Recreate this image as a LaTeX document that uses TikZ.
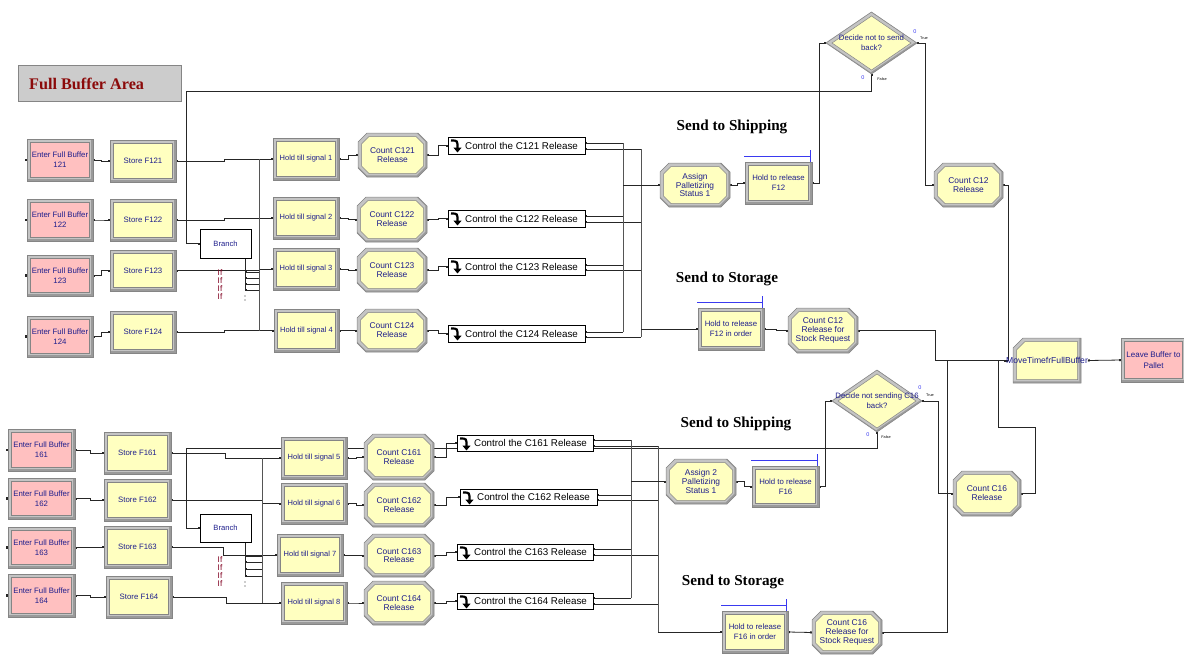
\documentclass[tikz,border=0pt]{standalone}
\usepackage{fontspec}
\setmainfont{Liberation Serif}
\setsansfont{Liberation Sans}
\usetikzlibrary{calc,arrows.meta,backgrounds}

\definecolor{modyellow}{HTML}{FFFFC0}
\definecolor{modpink}{HTML}{FFC0C0}
\definecolor{bevlight}{HTML}{C4C4C4}
\definecolor{bevdark}{HTML}{9A9A9A}
\definecolor{bevedge}{HTML}{858585}
\definecolor{modtextc}{HTML}{1E1E8C}
\definecolor{titlered}{HTML}{8B0A0A}
\definecolor{titlegray}{HTML}{CCCCCC}
\definecolor{ifred}{HTML}{800020}
\definecolor{holdblue}{HTML}{3A3AF0}
\definecolor{linec}{HTML}{262626}
\definecolor{busc}{HTML}{555555}

\newcommand\mfont[2]{\sffamily\fontsize{#1}{#2}\selectfont}
% outline paths (pixel-style coordinates, y grows downwards)
\newcommand\arRect[4]{({#1},{#2}) rectangle ({#3},{#4})}
\newcommand\arOct[5]{({(#1)+(#5)},{#2}) -- ({(#3)-(#5)},{#2}) -- ({#3},{(#2)+(#5)}) -- ({#3},{(#4)-(#5)}) -- ({(#3)-(#5)},{#4}) -- ({(#1)+(#5)},{#4}) -- ({#1},{(#4)-(#5)}) -- ({#1},{(#2)+(#5)}) -- cycle}
\newcommand\arCut[5]{({(#1)+(#5)},{#2}) -- ({#3},{#2}) -- ({#3},{#4}) -- ({#1},{#4}) -- ({#1},{(#2)+(#5)}) -- cycle}
\newcommand\arDia[4]{({(#1)-(#3)},{#2}) -- ({#1},{(#2)-(#4)}) -- ({(#1)+(#3)},{#2}) -- ({#1},{(#2)+(#4)}) -- cycle}

% rectangular module with bevelled frame: [font] name x1 y1 x2 y2 fill text
\newcommand\rectmod[8][\mfont{7.8}{10}]{%
  \fill[bevdark] \arRect{#3}{#4}{#5}{#6};
  \fill[bevlight] \arRect{#3}{#4}{#5-1.6}{#6-1.6};
  \draw[frameedge] \arRect{#3}{#4}{#5}{#6};
  \draw[frameedge, fill=#7] \arRect{#3+3.5}{#4+3.5}{#5-3.5}{#6-3.5};
  \node[modlabel, font=#1, minimum width={#5-#3}, minimum height={#6-#4}] (#2) at ({(#3+#5)/2},{(#4+#6)/2}) {#8};%
}
% octagonal module (count / assign)
\newcommand\octmod[8][\mfont{8.4}{8.8}]{%
  \fill[bevdark] \arOct{#3}{#4}{#5}{#6}{9};
  \fill[bevlight] \arOct{#3}{#4}{#5-1.6}{#6-1.6}{9};
  \draw[frameedge] \arOct{#3}{#4}{#5}{#6}{9};
  \draw[frameedge, fill=#7] \arOct{#3+3.5}{#4+3.5}{#5-3.5}{#6-3.5}{7.5};
  \node[modlabel, font=#1, minimum width={#5-#3}, minimum height={#6-#4}] (#2) at ({(#3+#5)/2},{(#4+#6)/2}) {#8};%
}
% module with one cut corner (route)
\newcommand\cutmod[7]{%
  \fill[bevdark] \arCut{#2}{#3}{#4}{#5}{10};
  \fill[bevlight] \arCut{#2}{#3}{#4-1.6}{#5-1.6}{10};
  \draw[frameedge] \arCut{#2}{#3}{#4}{#5}{10};
  \draw[frameedge, fill=#6] \arCut{#2+3.5}{#3+3.5}{#4-3.5}{#5-3.5}{8.5};
  \node[modlabel, font=\mfont{8.6}{10}, minimum width={#4-#2}, minimum height={#5-#3}] (#1) at ({(#2+#4)/2},{(#3+#5)/2}) {#7};%
}
% decision diamond: name cx cy half-width half-height text
\newcommand\decmod[6]{%
  \fill[bevdark] \arDia{#2}{#3}{#4}{#5};
  \fill[bevlight] \arDia{#2-0.8}{#3-0.8}{#4-1}{#5-1};
  \draw[frameedge] \arDia{#2}{#3}{#4}{#5};
  \draw[frameedge, fill=modyellow] \arDia{#2}{#3}{#4-6}{#5-4};
  \node[modlabel, font=\mfont{7.8}{9.6}, minimum width={2*(#4)}, minimum height={2*(#5)}] (#1) at ({#2},{#3}) {#6};%
}
% signal control box with its icon
\newcommand\ctlmod[6]{%
  \node[ctlbox, minimum width={#4-#2}, minimum height={#5-#3}] (#1) at ({(#2+#4)/2},{(#3+#5)/2}) {};
  \draw[line width=2.2pt, -{Triangle[length=5pt,width=8pt]}] ($(#1.north west)+(3,3.5)$) .. controls ($(#1.north west)+(9.5,3.5)$) .. ($(#1.north west)+(9.5,15.5)$);
  \node[ctltext, anchor=west] (#1t) at ($(#1.west)+(17,0)$) {#6};%
}

\begin{document}
\begin{tikzpicture}[x=1pt, y=-1pt,
  frameedge/.style={draw=bevedge, line width=0.5pt},
  modlabel/.style={inner sep=0pt, outer sep=0pt, align=center, text=modtextc},
  ctlbox/.style={draw=black, fill=white, line width=0.6pt, inner sep=0pt, outer sep=0pt},
  ctltext/.style={inner sep=0pt, font=\mfont{9.8}{11}, text=black},
  branchbox/.style={draw=black, fill=white, line width=0.6pt, inner sep=0pt, outer sep=0pt, font=\mfont{7.6}{9}, text=modtextc},
  sectionlab/.style={inner sep=0pt, font=\rmfamily\bfseries\fontsize{15.2}{17}\selectfont},
  iflab/.style={inner sep=0pt, font=\mfont{8.2}{9}, text=ifred},
  zerolab/.style={inner sep=0pt, font=\mfont{5.5}{6}, text=holdblue},
  tflab/.style={inner sep=0pt, font=\mfont{3.8}{4}, text=black},
  conn/.style={draw=linec, line width=0.8pt, {Square[length=2pt,width=2pt]}-{Square[length=2pt,width=2pt]}},
  inport/.style={draw=linec, line width=0.8pt, -{Square[length=2pt,width=2pt]}},
  outport/.style={draw=linec, line width=0.8pt, {Square[length=2pt,width=2pt]}-},
  plain/.style={draw=linec, line width=0.8pt},
  bus/.style={draw=busc, line width=0.8pt}]

\useasboundingbox (0,0) rectangle (1184,654);

% ---------- title ----------
\node[draw=bevedge, fill=titlegray, line width=0.9pt, minimum width=163, minimum height=36, inner sep=0pt, outer sep=0pt] (title) at (99.5,83) {};
\node[anchor=west, text=titlered, inner sep=0pt, font=\rmfamily\bfseries\fontsize{16.2}{18}\selectfont] (titletext) at (29,84) {Full Buffer Area};

% ---------- upper line: C12 ----------
\rectmod{e121}{27}{139}{93}{181}{modpink}{Enter Full Buffer\\121}
\rectmod{e122}{27}{199}{93}{241}{modpink}{Enter Full Buffer\\122}
\rectmod{e123}{27}{255}{93}{296}{modpink}{Enter Full Buffer\\123}
\rectmod{e124}{27}{316}{93}{357}{modpink}{Enter Full Buffer\\124}
\rectmod{s121}{110}{140}{176}{182}{modyellow}{Store F121}
\rectmod{s122}{110}{199}{176}{241}{modyellow}{Store F122}
\rectmod{s123}{110}{250}{176}{291}{modyellow}{Store F123}
\rectmod{s124}{110}{311}{176}{353}{modyellow}{Store F124}
\node[branchbox, minimum width=51, minimum height=29] (b1) at (225.5,243.5) {Branch};
\rectmod[\mfont{7.5}{9}]{h1}{273}{138}{339}{180}{modyellow}{Hold till signal 1}
\rectmod[\mfont{7.5}{9}]{h2}{273}{197}{339}{239}{modyellow}{Hold till signal 2}
\rectmod[\mfont{7.5}{9}]{h3}{273}{248}{339}{290}{modyellow}{Hold till signal 3}
\rectmod[\mfont{7.5}{9}]{h4}{274}{309}{339}{352}{modyellow}{Hold till signal 4}
\octmod{c121}{358}{133}{427}{177}{modyellow}{Count C121\\Release}
\octmod{c122}{357}{197}{427}{242}{modyellow}{Count C122\\Release}
\octmod{c123}{357}{248}{427}{292}{modyellow}{Count C123\\Release}
\octmod{c124}{357}{309}{427}{352}{modyellow}{Count C124\\Release}
\ctlmod{k121}{448}{137}{585}{154}{Control the C121 Release}
\ctlmod{k122}{448}{210}{585}{227}{Control the C122 Release}
\ctlmod{k123}{448}{258}{585}{275}{Control the C123 Release}
\ctlmod{k124}{448}{325}{585}{342}{Control the C124 Release}

\node[sectionlab] (ship1) at (732,127) {Send to Shipping};
\octmod{a1}{660}{163}{730}{207}{modyellow}{Assign\\Palletizing\\Status 1}
\rectmod{hr1}{745}{162}{812}{204}{modyellow}{Hold to release\\F12}
\decmod{d1}{871.5}{43}{45.5}{31}{Decide not to send\\back?}
\octmod{c12}{934}{163}{1003}{207}{modyellow}{Count C12\\Release}
\node[sectionlab] (stor1) at (727,279) {Send to Storage};
\rectmod{hs1}{698}{308}{764}{350}{modyellow}{Hold to release\\F12 in order}
\octmod{cs1}{788}{308}{858}{353}{modyellow}{Count C12\\Release for\\Stock Request}

\cutmod{mv}{1013}{338}{1081}{383}{modyellow}{MoveTimefrFullBuffer}
\rectmod[\mfont{8}{10.5}]{lv}{1121}{338}{1186}{382}{modpink}{Leave Buffer to\\Pallet}

% ---------- lower line: C16 ----------
\rectmod{e161}{8}{429}{75}{471}{modpink}{Enter Full Buffer\\161}
\rectmod{e162}{8}{478}{75}{519}{modpink}{Enter Full Buffer\\162}
\rectmod{e163}{8}{527}{75}{568}{modpink}{Enter Full Buffer\\163}
\rectmod{e164}{8}{574}{75}{617}{modpink}{Enter Full Buffer\\164}
\rectmod{s161}{104}{432}{171}{474}{modyellow}{Store F161}
\rectmod{s162}{104}{479}{171}{521}{modyellow}{Store F162}
\rectmod{s163}{104}{526}{171}{568}{modyellow}{Store F163}
\rectmod{s164}{106}{576}{172}{618}{modyellow}{Store F164}
\node[branchbox, minimum width=51, minimum height=28] (b2) at (225.5,528) {Branch};
\rectmod[\mfont{7.5}{9}]{h5}{281}{437}{347}{479}{modyellow}{Hold till signal 5}
\rectmod[\mfont{7.5}{9}]{h6}{281}{483}{347}{524}{modyellow}{Hold till signal 6}
\rectmod[\mfont{7.5}{9}]{h7}{277}{534}{343}{576}{modyellow}{Hold till signal 7}
\rectmod[\mfont{7.5}{9}]{h8}{281}{582}{347}{624}{modyellow}{Hold till signal 8}
\octmod{c161}{364}{434}{434}{480}{modyellow}{Count C161\\Release}
\octmod{c162}{364}{483}{434}{527}{modyellow}{Count C162\\Release}
\octmod{c163}{364}{534}{434}{577}{modyellow}{Count C163\\Release}
\octmod{c164}{364}{581}{434}{625}{modyellow}{Count C164\\Release}
\ctlmod{k161}{457}{435}{593}{451}{Control the C161 Release}
\ctlmod{k162}{460}{489}{597}{505}{Control the C162 Release}
\ctlmod{k163}{457}{544}{593}{560}{Control the C163 Release}
\ctlmod{k164}{457}{593}{593}{609}{Control the C164 Release}

\node[sectionlab] (ship2) at (736,424) {Send to Shipping};
\octmod{a2}{666}{459}{736}{504}{modyellow}{Assign 2\\Palletizing\\Status 1}
\rectmod{hr2}{752}{466}{819}{507}{modyellow}{Hold to release\\F16}
\decmod{d2}{877}{401}{45}{31}{Decide not sending C16\\back?}
\octmod{c16}{953}{471}{1021}{516}{modyellow}{Count C16\\Release}
\node[sectionlab] (stor2) at (733,582) {Send to Storage};
\rectmod{hs2}{722}{611}{788}{653}{modyellow}{Hold to release\\F16 in order}
\octmod{cs2}{812}{611}{882}{654}{modyellow}{Count C16\\Release for\\Stock Request}

% ---------- small marks and labels ----------
\foreach \n in {e121,e122,e123,e124,e161,e162,e163,e164}
  \fill[linec] ($(\n.west)+(-2.4,-1.2)$) rectangle ++(2.4,2.4);
\foreach \n in {hr1,hs1,hr2,hs2}{
  \draw[holdblue, line width=0.8pt] ($(\n.north west)+(-1,-6)$) -- ($(\n.north east)+(-2,-6)$);
  \draw[holdblue, line width=0.8pt] ($(\n.north east)+(-2,-12)$) -- ($(\n.north east)+(-2,0)$);
}
\foreach \i/\y in {1/273,2/281,3/289,4/297} \node[iflab] (ift\i) at (220,\y) {If};
\foreach \i/\y in {1/560,2/568,3/576,4/584} \node[iflab] (ifb\i) at (220,\y) {If};
\node[zerolab] (d1t0) at (915,32) {0};
\node[tflab] (d1tt) at (924,38.5) {True};
\node[zerolab] (d1f0) at (863,78) {0};
\node[tflab] (d1ff) at (882,79) {False};
\node[zerolab] (d2t0) at (920,388) {0};
\node[tflab] (d2tt) at (930,395) {True};
\node[zerolab] (d2f0) at (868,435) {0};
\node[tflab] (d2ff) at (886,437) {False};

% ---------- connectors ----------
\begin{pgfonlayer}{background}
% upper: entries, stores, holds
\foreach \e/\s in {e121/s121,e122/s122,e123/s123,e124/s124}
  \draw[conn] (\e.east) -- ++(8,0) |- (\s.west);
\draw[conn] (s121.east) -- ++(48,0) |- (h1.west);
\draw[conn] (s122.east) -- ++(48,0) |- (h2.west);
\draw[conn] (s123.east) -- ++(83,0) |- (h3.west);
\draw[conn] (s124.east) -- ++(48,0) |- (h4.west);
\coordinate (tb) at (259,0);
\draw[bus] (tb |- h1.west) -- (tb |- h4.west);
\draw[plain] ($(b1.south east)+(-6,0)$) -- ++(0,32);
\foreach \d in {14,20,26,32}
  \draw[outport] ($(b1.south east)+(-6,\d)$) -- ($(b1.south east)+(8,\d)$);
\fill[linec] ($(b1.south east)+(-6,38)$) circle (0.7) ($(b1.south east)+(-6,42)$) circle (0.7);
\coordinate (tl) at (186,91);
\draw[conn] (d1.south) |- (tl) |- (b1.west);
\foreach \h/\c/\k in {h1/c121/k121,h2/c122/k122,h3/c123/k123,h4/c124/k124}{
  \draw[conn] (\h.east) -- ++(9,0) |- (\c.west);
  \draw[conn] (\c.east) -- ++(11,0) |- (\k.west);
}
% upper: release signals gathered on two buses
\coordinate (ua) at (623,0);
\coordinate (la) at (641,0);
\foreach \k/\u/\l in {k121/6/12,k122/6/12,k123/7/12,k124/7/12}{
  \coordinate (pu\k) at ($(\k.north east)+(0,\u)$);
  \coordinate (pl\k) at ($(\k.north east)+(0,\l)$);
  \draw[inport] (ua |- pu\k) -- (pu\k);
  \draw[inport] (la |- pl\k) -- (pl\k);
}
\draw[bus] (ua |- puk121) -- (ua |- puk124);
\draw[bus] (la |- plk121) -- (la |- plk124);
\draw[inport] (ua |- a1.west) -- (a1.west);
\draw[inport] (la |- hs1.west) -- (hs1.west);
\draw[conn] (a1.east) -- ++(7,0) |- (hr1.west);
\draw[conn] (hr1.east) -- ++(7,0) |- (d1.west);
\draw[conn] (d1.east) -- ++(8,0) |- (c12.west);
\draw[conn] (c12.east) -- ++(5,0) |- (mv.west);
\draw[conn] (hs1.east) -- ++(12,0) |- (cs1.west);
\draw[conn] (cs1.east) -- ++(77,0) |- (mv.west);
\draw[conn] (mv.east) -- (lv.west);

% lower: entries, stores, holds
\foreach \e/\s in {e161/s161,e162/s162,e163/s163,e164/s164}
  \draw[conn] (\e.east) -- ++(15,0) |- (\s.west);
\draw[conn] (s161.east) -- ++(54,0) |- (h5.west);
\draw[conn] (s162.east) -- ++(91,0) |- (h6.west);
\draw[conn] (s163.east) -- ++(52,0) |- (h7.west);
\draw[conn] (s164.east) -- ++(54,0) |- (h8.west);
\coordinate (bb) at (262,0);
\draw[bus] (bb |- h5.west) -- (bb |- h8.west);
\draw[plain] ($(b2.south east)+(-6,0)$) -- ++(0,34);
\foreach \d in {14,20,27,34}
  \draw[outport] ($(b2.south east)+(-6,\d)$) -- ($(b2.south east)+(11,\d)$);
\fill[linec] ($(b2.south east)+(-6,40)$) circle (0.7) ($(b2.south east)+(-6,44)$) circle (0.7);
\coordinate (bl) at (186,448);
\draw[conn] (d2.south) |- (bl) |- (b2.west);
\foreach \h/\c/\k in {h5/c161/k161,h6/c162/k162,h7/c163/k163,h8/c164/k164}{
  \draw[conn] (\h.east) -- ++(9,0) |- (\c.west);
  \draw[conn] (\c.east) -- ++(12,0) |- (\k.west);
}
% lower: release signals gathered on two buses
\coordinate (ub) at (631,0);
\coordinate (lb) at (658,0);
\foreach \k/\u/\l in {k161/5/11,k162/6/11,k163/5/11,k164/5/11}{
  \coordinate (pu\k) at ($(\k.north east)+(0,\u)$);
  \coordinate (pl\k) at ($(\k.north east)+(0,\l)$);
  \draw[inport] (ub |- pu\k) -- (pu\k);
  \draw[inport] (lb |- pl\k) -- (pl\k);
}
\draw[bus] (ub |- puk161) -- (ub |- puk164);
\draw[bus] (lb |- plk161) -- (lb |- hs2.west);
\draw[inport] (ub |- a2.west) -- (a2.west);
\draw[inport] (lb |- hs2.west) -- (hs2.west);
\draw[conn] (a2.east) -- ++(8,0) |- (hr2.west);
\draw[conn] (hr2.east) -- ++(6,0) |- (d2.west);
\draw[conn] (d2.east) -- ++(16,0) |- (c16.west);
\coordinate (j16) at (998,427);
\draw[conn] (c16.east) -- ++(14,0) |- (j16) |- (mv.west);
\draw[conn] (hs2.east) -- (cs2.west);
\draw[conn] (cs2.east) -- ++(65,0) |- (mv.west);
\end{pgfonlayer}
\end{tikzpicture}
\end{document}
